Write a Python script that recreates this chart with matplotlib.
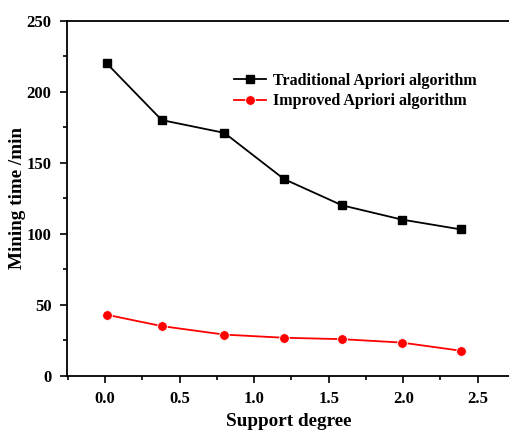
import matplotlib
matplotlib.use("Agg")
import matplotlib.pyplot as plt
from matplotlib.ticker import MultipleLocator

plt.rcParams['font.family'] = ['Liberation Serif', 'DejaVu Serif']
plt.rcParams['font.weight'] = 'bold'

support = [0.01, 0.38, 0.80, 1.20, 1.59, 1.99, 2.39]
traditional = [220, 180, 171, 138.5, 120, 110, 103]
improved = [43, 35, 29, 26.8, 25.8, 23.4, 17.6]
labels = ["Traditional Apriori algorithm", "Improved Apriori algorithm"]

fig = plt.figure(figsize=(5.1, 4.3), dpi=100)
ax = fig.add_axes([0.131, 0.126, 0.87, 0.826])

ax.plot(support, traditional, color='black', marker='s', markersize=6.3, lw=1.3,
        label=labels[0])
ax.plot(support, improved, color='red', marker='o', markersize=7.0, lw=1.3,
        markeredgecolor='white', markeredgewidth=0.6, label=labels[1])

ax.set_xlim(-0.257, 2.72)
ax.set_ylim(0, 250)
ax.xaxis.set_major_locator(MultipleLocator(0.5))
ax.xaxis.set_minor_locator(MultipleLocator(0.25))
ax.yaxis.set_major_locator(MultipleLocator(50))
ax.yaxis.set_minor_locator(MultipleLocator(25))
ax.tick_params(which='both', direction='out', width=1.2, labelsize=12)
ax.tick_params(which='major', length=5, pad=6)
ax.tick_params(which='minor', length=3)
for s in ['left', 'bottom', 'top']:
    ax.spines[s].set_linewidth(1.3)
ax.spines['right'].set_visible(False)
for lab in ax.get_xticklabels() + ax.get_yticklabels():
    lab.set_fontweight('bold')

ax.set_xlabel("Support degree", fontsize=13.8, fontweight='bold')
ax.set_ylabel("Mining time /min", fontsize=13.8, fontweight='bold')
ax.xaxis.set_label_coords(0.5, -0.104)
ax.yaxis.set_label_coords(-0.092, 0.5)

ax.legend(loc='upper left', bbox_to_anchor=(0.345, 0.894), frameon=False,
          prop={'weight': 'bold', 'size': 11.5}, handlelength=2.0,
          handletextpad=0.4, labelspacing=0.3)

fig.savefig("out.png", dpi=100)
